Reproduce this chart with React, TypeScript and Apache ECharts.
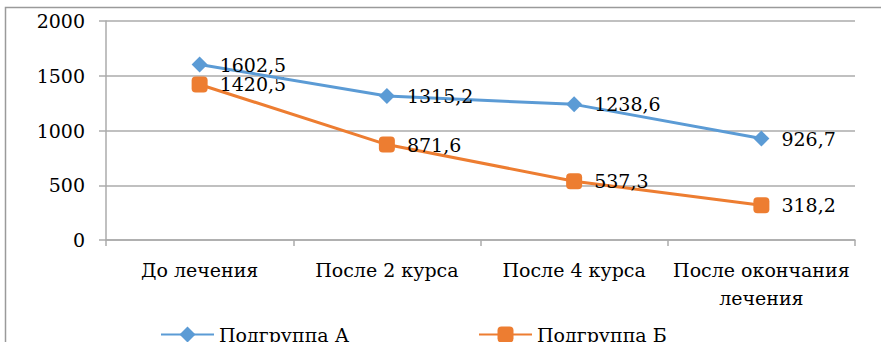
import React, { useEffect, useRef } from "react";
import * as echarts from "echarts";

const categories = ["До лечения", "После 2 курса", "После 4 курса", "После окончания\nлечения"];
const seriesA = [1602.5, 1315.2, 1238.6, 926.7];
const seriesB = [1420.5, 871.6, 537.3, 318.2];
const nameA = "Подгруппа А";
const nameB = "Подгруппа Б";
const yTicks = { min: 0, max: 2000, interval: 500 };

const FONT = "DejaVu Serif";
const FS = 19;
const BLUE = "#5B9BD5";
const ORANGE = "#ED7D31";
const GRID = "#ABABAB";

export default function App() {
  const ref = useRef<HTMLDivElement>(null);
  useEffect(() => {
    if (!ref.current) return;
    const chart = echarts.init(ref.current, undefined, { renderer: "svg" });
    const fmt = (p: any) => String(p.value).replace(".", ",");
    const label = {
      show: true,
      position: "right",
      distance: 12,
      color: "#000",
      fontFamily: FONT,
      fontSize: FS,
      formatter: fmt,
    };
    const legendText = { fontFamily: FONT, fontSize: FS, color: "#000" };
    chart.setOption({
      animation: false,
      backgroundColor: "#fff",
      textStyle: { fontFamily: FONT, fontSize: FS },
      grid: { left: 106, right: 26, top: 21, bottom: 102, containLabel: false },
      graphic: [
        {
          type: "rect",
          shape: { x: 5.5, y: 7.5, width: 950, height: 450 },
          style: { fill: "none", stroke: "#9A9A9A", lineWidth: 1.5 },
          silent: true,
          z: -10,
        },
      ],
      legend: [
        {
          data: [nameA],
          left: 155,
          top: 320,
          itemWidth: 53,
          itemHeight: 20,
          itemGap: 0,
          textStyle: legendText,
        },
        {
          data: [nameB],
          left: 473,
          top: 320,
          itemWidth: 53,
          itemHeight: 20,
          itemGap: 0,
          textStyle: legendText,
        },
      ],
      xAxis: {
        type: "category",
        data: categories,
        boundaryGap: true,
        axisLine: { show: true, lineStyle: { color: GRID, width: 1.5 } },
        axisTick: { show: true, length: 6, lineStyle: { color: GRID, width: 1.5 } },
        axisLabel: {
          interval: 0,
          margin: 16,
          color: "#000",
          fontFamily: FONT,
          fontSize: FS,
          lineHeight: 28,
        },
      },
      yAxis: {
        type: "value",
        min: yTicks.min,
        max: yTicks.max,
        interval: yTicks.interval,
        axisLine: { show: true, lineStyle: { color: GRID, width: 1.5 } },
        axisTick: { show: true, length: 7, lineStyle: { color: GRID, width: 1.5 } },
        splitLine: { show: true, lineStyle: { color: GRID, width: 1.5 } },
        axisLabel: {
          margin: 21,
          color: "#000",
          fontFamily: FONT,
          fontSize: FS,
          formatter: (v: number) => String(v),
        },
      },
      series: [
        {
          name: nameA,
          type: "line",
          data: seriesA,
          symbol: "diamond",
          symbolSize: 16,
          lineStyle: { color: BLUE, width: 3 },
          itemStyle: { color: BLUE },
          label,
          z: 3,
        },
        {
          name: nameB,
          type: "line",
          data: seriesB,
          symbol: "roundRect",
          symbolSize: 16,
          lineStyle: { color: ORANGE, width: 3 },
          itemStyle: { color: ORANGE },
          label,
          z: 2,
        },
      ],
    });
    return () => chart.dispose();
  }, []);
  return (
    <div
      ref={ref}
      style={{ position: "fixed", left: 0, top: 0, width: 881, height: 342, background: "#fff" }}
    />
  );
}
